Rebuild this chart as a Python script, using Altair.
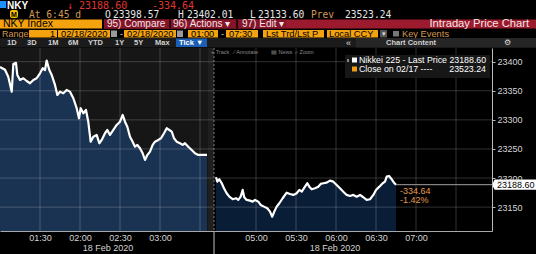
import altair as alt
import pandas as pd

# ---------------- data ----------------
# morning session: minutes after 01:00, afternoon: minutes after 04:30
AM_MIN = [0, 3.75, 6.2, 8.8, 10, 12, 13, 15, 17.5, 20, 22.5, 25, 27.5, 30, 32, 33.75, 35, 37, 38.8, 41.25,
          43, 45, 47.5, 50, 52.5, 55, 57.5, 59.25, 60.5, 62.5, 64.5, 66.2, 68, 70, 72.5, 74.5, 76.3, 78.75, 80.5, 82.5,
          85, 87.5, 90, 92, 93.75, 95.5, 97.5, 99.5, 101.25, 103, 105, 107, 108.75, 110.5, 112.5, 114.5, 116.25, 118.7,
          120.75, 123, 125, 127, 128.8, 130.5, 132.5, 135, 137, 138.75, 141.2, 143.8, 146.25, 148.7, 152.25, 155.25]
AM_PRICE = [23391, 23386, 23374, 23348.5, 23396, 23398, 23377, 23368.6, 23371.5, 23366.8,
            23362.9, 23368.6, 23371.5, 23380, 23388.7, 23385.7, 23402.0, 23385.7, 23377, 23360,
            23342.8, 23348.5, 23345.7, 23351.4, 23348.5, 23337.1, 23320, 23302.7, 23320, 23311.3,
            23317, 23296.9, 23262.5, 23271.1, 23274.1, 23259.8, 23265.5, 23277, 23282.6, 23274.1,
            23282.6, 23291.2, 23296.9, 23308.4, 23296.9, 23288.3, 23271.1, 23262.5, 23253.9, 23256.9,
            23251.2, 23242.6, 23231.1, 23239.7, 23245.4, 23256.9, 23262.5, 23265.5, 23268.4, 23277,
            23285.6, 23282.6, 23279.7, 23268.4, 23262.5, 23259.8, 23256.9, 23259.8, 23253.9, 23248.3,
            23242.6, 23239.7, 23239.7, 23239.7]
PM_MIN = [0, 1.0, 2.5, 4.3, 6, 8, 10, 12.5, 15, 16.7, 18.5, 20, 21.2, 23, 25.5, 27.5, 29.25, 31.7, 33.5, 36,
          38.5, 40.5, 42.2, 43.7, 45.5, 47.5, 50, 53, 55.5, 58, 60.5, 62.5, 64.3, 66.75, 68.5, 70, 71.8, 74.25,
          76.7, 78.5, 80.5, 83, 85.5, 88, 90.5, 93, 95.5, 98, 100.5, 103, 105.5, 108, 110.5, 113, 115.5, 118,
          120, 122.5, 125, 126.75, 128, 129.75, 131.8, 133.5, 135]
PM_PRICE = [23201.4, 23193.8, 23197.9, 23191.1, 23182.5, 23173.9, 23168.0, 23163.6, 23165.3, 23162.4,
            23168.0, 23179.6, 23167.0, 23162.4, 23161.2, 23159.5, 23162.4, 23159.5, 23153.8, 23150.9,
            23148.1, 23142.3, 23133.6, 23142.3, 23150.9, 23156.7, 23165.3, 23174.9, 23172.7, 23171.0,
            23173.9, 23179.6, 23176.6, 23185.2, 23191.1, 23185.2, 23180.7, 23182.5, 23185.2, 23189.9,
            23191.1, 23192.1, 23195.5, 23193.8, 23188.1, 23182.5, 23176.6, 23171.0, 23169.2, 23171.0,
            23168.0, 23171.0, 23167.0, 23162.4, 23163.6, 23171.0, 23179.6, 23185.2, 23191.1, 23193.8,
            23202.4, 23203.6, 23197.9, 23192.1, 23188.6]

OPEN, HIGH, LOW, PREV = 23398.57, 23402.01, 23133.60, 23523.24
LAST = PM_PRICE[-1]
CHG = LAST - PREV
PCT = CHG / PREV * 100

TICK_CLOCK = ["01:30", "02:00", "02:30", "03:00", "03:30", "05:00", "05:30", "06:00", "06:30", "07:00", "07:30"]
TICK_SHOW = [True, True, True, True, False, True, True, True, True, True, False]
Y_TICKS = [23150, 23200, 23250, 23300, 23350, 23400]
DATE_LABEL = "18 Feb 2020"

# ---------------- layout ----------------
TOP, W, H = 48, 492, 183
PM_POS0 = 162          # compressed axis: lunch break squeezed
BREAK_LO, BREAK_HI = 155.5, 160.5
X_DOMAIN = [0, 369]
Y_DOMAIN = [23109, 23423.5]
SANS = "Liberation Sans"
MONO = "DejaVu Sans Mono"
RED = "#e0352f"
TAN = "#d49a52"
ORANGE = "#f4a20e"


def clock_pos(s):
    h, m = map(int, s.split(":"))
    t = h * 60 + m
    return t - 60 if t < 270 else t - 270 + PM_POS0


TICK_POS = [clock_pos(c) for c in TICK_CLOCK]
expr = "''"
for p, c, show in reversed(list(zip(TICK_POS, TICK_CLOCK, TICK_SHOW))):
    expr = f"datum.value == {p} ? '{c if show else ''}' : ({expr})"

df = pd.concat([
    pd.DataFrame({"pos": AM_MIN, "price": AM_PRICE, "session": "AM"}),
    pd.DataFrame({"pos": [PM_POS0 + m for m in PM_MIN], "price": PM_PRICE, "session": "PM"}),
])
df["base"] = Y_DOMAIN[0]
LAST_POS = PM_POS0 + PM_MIN[-1]

xs = alt.Scale(domain=X_DOMAIN, nice=False, zero=False)
ys = alt.Scale(domain=Y_DOMAIN, nice=False, zero=False)
XAX = alt.Axis(values=TICK_POS, labelExpr=expr, grid=False, ticks=False, domainColor="#a8a8a8",
               labelColor="#d4d4d4", labelFontSize=9, labelPadding=2, labelFont=SANS, title=None,
               labelOverlap=False, labelFlush=False, zindex=1)
YAX = alt.Axis(orient="right", values=Y_TICKS, grid=False, tickSize=3, tickColor="#bbbbbb",
               domainColor="#bbbbbb", labelColor="#d4d4d4", labelFontSize=9, labelPadding=2,
               labelFont=SANS, title=None, format="d", zindex=1)
X = alt.X("pos:Q", scale=xs, axis=XAX)
Y = alt.Y("price:Q", scale=ys, axis=YAX)

ONE = alt.Data(values=[{"a": 1}])


def T(s, x, y, color, size, font=SANS, weight="normal", align="left", baseline="middle"):
    return alt.Chart(alt.Data(values=[{"t": s}])).mark_text(
        align=align, baseline=baseline, color=color, fontSize=size, font=font, fontWeight=weight
    ).encode(text="t:N", x=alt.value(x), y=alt.value(y - TOP))


def R(x1, x2, y1, y2, color, radius=0):
    return alt.Chart(ONE).mark_rect(color=color, cornerRadius=radius).encode(
        x=alt.value(x1), x2=alt.value(x2), y=alt.value(y1 - TOP), y2=alt.value(y2 - TOP))


# session backgrounds (morning panel, lunch-break gap)
bg_am = alt.Chart(pd.DataFrame({"pos": [0], "pos2": [BREAK_LO]})).mark_rect(color="#161616").encode(
    x=X, x2="pos2:Q", y=alt.value(0), y2=alt.value(H))
bg_gap = alt.Chart(pd.DataFrame({"pos": [BREAK_LO], "pos2": [BREAK_HI]})).mark_rect(color="#1f1f1f").encode(
    x=X, x2="pos2:Q", y=alt.value(0), y2=alt.value(H))
layers = [bg_am, bg_gap]

# area under price
layers.append(alt.Chart(df).mark_area(opacity=1, clip=True).encode(
    x=X, y=Y, y2="base:Q",
    color=alt.Color("session:N", scale=alt.Scale(domain=["AM", "PM"], range=["#1b3352", "#0a1d37"]), legend=None),
    detail="session:N"))

# grid
layers.append(alt.Chart(pd.DataFrame({"pos": TICK_POS})).mark_rule(color="white", opacity=0.19).encode(x=X))
layers.append(alt.Chart(pd.DataFrame({"price": Y_TICKS})).mark_rule(color="white", opacity=0.19).encode(y=Y))
# break marker
brk = pd.DataFrame({"pos": [BREAK_HI]})
layers.append(alt.Chart(brk).mark_rule(color="#7a7a7a", strokeDash=[2, 2]).encode(x=X))
layers.append(alt.Chart(brk).mark_rule(color="#c0c0c0").encode(x=X, y=alt.value(H), y2=alt.value(H + 23)))
# price line
layers.append(alt.Chart(df).mark_line(color="white", strokeWidth=2.2, strokeJoin="round").encode(
    x=X, y=Y, detail="session:N"))
# last price line + change
lastdf = pd.DataFrame({"pos": [LAST_POS], "price": [LAST],
                       "chg": [f"{CHG:.2f}"], "pct": [f"{PCT:.2f}%"], "lbl": [f"{LAST:.2f}"]})
layers.append(alt.Chart(lastdf).mark_rule(color="#a0a0a0").encode(x=X, x2=alt.value(W), y=Y))
for col, dy in [("chg", 6), ("pct", 15.5)]:
    layers.append(alt.Chart(lastdf).mark_text(
        align="left", baseline="middle", color="#e59a4c", fontSize=9, font=SANS, dx=4, dy=dy
    ).encode(text=f"{col}:N", x=X, y=Y))
# last price tag
layers.append(alt.Chart(lastdf).mark_point(
    shape="M-1,0L-0.88,-0.235L1,-0.235L1,0.235L-0.88,0.235Z", filled=True, size=1936, color="white", opacity=1
).encode(x=alt.value(514), y=Y))
layers.append(alt.Chart(lastdf).mark_text(
    align="left", baseline="middle", color="black", fontSize=9, font=SANS
).encode(text="lbl:N", x=alt.value(497), y=Y))

# date labels
layers.append(T(DATE_LABEL, 108, 248, "#d4d4d4", 9, align="center"))
layers.append(T(DATE_LABEL, 335, 248, "#d4d4d4", 9, align="center"))

# legend box
layers += [
    R(345, 490, 55, 78, "#171717"),
    R(347, 349, 59, 62, "#888888"),
    R(352, 357, 57.5, 62.5, "white"),
    T(f"Nikkei 225 - Last Price {LAST:.2f}", 359, 60.3, "white", 8.8),
    R(352, 357, 66.5, 71.5, "#f39c12"),
    T("Close on 02/17 ----", 359, 69.3, "white", 8.8),
    T(f"{PREV:.2f}", 486, 69.3, "white", 8.8, align="right"),
]
# chart toolbar
for s, x in [("+ Track", 211), ("⁄ Annotate", 234), ("▤ News", 271), ("⌕ Zoom", 295)]:
    layers.append(T(s, x, 52.3, "#8a8a8a", 5.5))

# header row 1
layers += [
    R(0, 6, 1, 8, "#1e90ff"),
    T("NKY", 7, 9.2, "white", 10, weight="bold", baseline="alphabetic"),
    T(f"↓ {LAST:.2f}", 67, 9.2, RED, 10, MONO, baseline="alphabetic"),
    T(f"{CHG:.2f}", 152, 9.2, RED, 10, MONO, baseline="alphabetic"),
]
# header row 2
row2 = [("At 6:45 d", 29, TAN), ("O", 105, "#e6e6e6"), (f"{OPEN:.2f}", 113, "#e6e6e6"),
        ("H", 178, "#e6e6e6"), (f"{HIGH:.2f}", 187, "#e6e6e6"), ("L", 250, "#e6e6e6"),
        (f"{LOW:.2f}", 258, "#e6e6e6"), ("Prev", 311, TAN), (f"{PREV:.2f}", 345, "#e6e6e6")]
layers += [R(10, 18, 10, 18, "#f2c200", 2),
           T("M", 14, 16.6, "black", 7, weight="bold", align="center", baseline="alphabetic")]
for s, x, c in row2:
    layers.append(T(s, x, 18.3, c, 9.6, MONO, baseline="alphabetic"))
# header row 3
layers += [
    R(0, 102, 19.5, 28.5, ORANGE),
    T("NKY Index", 3, 24.4, "black", 10.5),
    R(104, 536, 19.5, 28.5, "#9c1a2d"),
    R(104, 286, 19.5, 28.5, "#84142a"),
    R(169, 171, 19.5, 28.5, "#2a0508"),
    R(236, 238, 19.5, 28.5, "#2a0508"),
    T("95) Compare", 107, 24.4, "#f4e4e4", 10),
    T("96) Actions ▾", 173, 24.4, "#f4e4e4", 10),
    T("97) Edit ▾", 242, 24.4, "#f4e4e4", 10),
    T("Intraday Price Chart", 529, 24.4, "#f6e8e8", 11.2, align="right"),
]
# header row 4
layers += [
    T("Range", 2, 34, TAN, 9),
    R(29, 57, 30, 37.5, ORANGE), T("1", 55, 34, "black", 9, align="right"),
    R(58, 110, 30, 37.5, ORANGE), T("02/18/2020", 61, 34, "black", 9.3),
    R(111, 117, 30.5, 37, "#9a9a9a"),
    T("-", 120, 34, "#cccccc", 9),
    R(124, 176, 30, 37.5, ORANGE), T("02/18/2020", 127, 34, "black", 9.3),
    R(177, 183, 30.5, 37, "#9a9a9a"),
    R(188, 218, 30, 37.5, ORANGE), T("01:00", 191, 34, "black", 9.3),
    T("-", 221, 34, "#cccccc", 9),
    R(226, 258, 30, 37.5, ORANGE), T("07:30", 229, 34, "black", 9.3),
    R(263, 324, 30, 37.5, ORANGE), T("Lst Trd/Lst P", 266, 34, "black", 9.3),
    R(327, 378, 30, 37.5, ORANGE), T("Local CCY", 329, 34, "black", 9.3),
    R(380, 387, 30, 37.5, "#555555"), T("▾", 383.5, 34, "#dddddd", 7, align="center"),
    R(393, 399, 31, 36.5, "#777777"),
    T("Key Events", 402, 34, TAN, 9.3),
]
# header row 5
layers += [
    R(0, 536, 38, 47.5, "#1b1b1b"),
    R(356, 536, 38, 47.5, "#262626"),
]
for s, x in [("1D", 7), ("3D", 27), ("1M", 48), ("6M", 68), ("YTD", 88), ("1Y", 115), ("5Y", 134), ("Max", 155)]:
    layers.append(T(s, x, 43, "#d0d0d0", 7.5, weight="bold"))
layers += [
    R(176, 207, 38.5, 47, "#1a5fb4"),
    T("Tick ▼", 179, 43, "white", 7.5, weight="bold"),
    T("«", 346, 42.7, "#dddddd", 9),
    T("Chart Content", 386, 43, "#d0d0d0", 7.5, weight="bold"),
    T("⚙", 504, 43, "#dddddd", 8, font="DejaVu Sans"),
]

chart = alt.layer(*layers).properties(
    width=W, height=H,
    padding={"left": 0, "top": TOP, "right": 44, "bottom": 23},
    autosize=alt.AutoSizeParams(type="none"),
    background="black",
).configure_view(stroke=None)

chart.save("out.html", embed_options={"renderer": "svg", "actions": False})
